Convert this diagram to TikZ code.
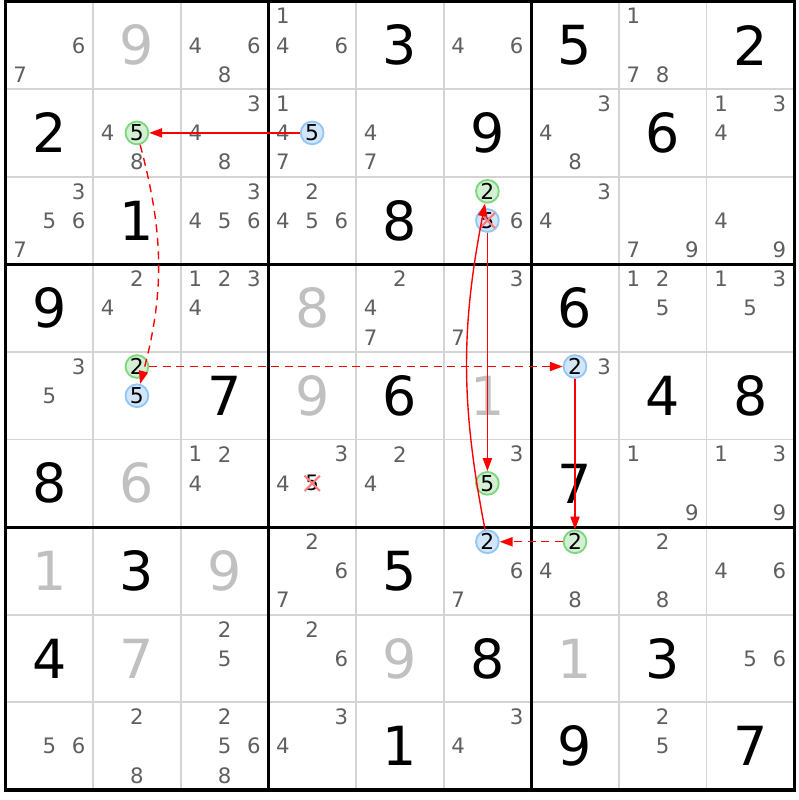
\documentclass[tikz,border=0pt]{standalone}
\usepackage{fontspec}
\setmainfont{DejaVu Sans}
\usetikzlibrary{arrows.meta,shapes.misc}
\definecolor{candgray}{RGB}{95,95,95}
\definecolor{solvedgray}{RGB}{192,192,192}
\definecolor{gridgray}{RGB}{212,212,212}
\definecolor{ongreen}{RGB}{125,215,125}
\definecolor{onfill}{RGB}{212,240,212}
\definecolor{offblue}{RGB}{145,198,245}
\definecolor{offfill}{RGB}{210,230,250}
\definecolor{xred}{RGB}{255,125,125}

\begin{document}
\begin{tikzpicture}[
    cand/.style={text=candgray, inner sep=0pt, font=\fontsize{6.9}{7}\selectfont},
    hitcand/.style={cand, text=black},
    oncand/.style={circle, draw=ongreen, fill=onfill, line width=0.6pt, minimum size=0.26cm,
      inner sep=0pt, font=\fontsize{7.1}{7}\selectfont},
    offcand/.style={oncand, draw=offblue, fill=offfill},
    given/.style={inner sep=0pt, font=\fontsize{17.5}{18}\selectfont},
    solved/.style={given, text=solvedgray},
    strong/.style={draw=red, line width=0.45pt, -{Triangle[length=4.2pt,width=3pt]}},
    weak/.style={strong, dash pattern=on 2.6pt off 1.8pt},
  ]
      \useasboundingbox (-0.063,-0.114) rectangle (9.046,9.017);
      \foreach \i in {1,2,4,5,7,8} {
        \draw [gridgray, line width=0.6pt] (\i,0) -- (\i,9);
        \draw [gridgray, line width=0.6pt] (0,\i) -- (9,\i);
      }
      \foreach \i in {3,6} {
        \draw [line width=1pt] (\i,0) -- (\i,9);
        \draw [line width=1pt] (0,\i) -- (9,\i);
      }
      \draw [line width=1pt] (0,0) rectangle (9,9);

      \foreach \r/\c/\d in {1/5/3, 1/7/5, 1/9/2, 2/1/2, 2/6/9, 2/8/6, 3/2/1, 3/5/8,
          4/1/9, 4/7/6, 5/3/7, 5/5/6, 5/8/4, 5/9/8, 6/1/8, 6/7/7, 7/2/3, 7/5/5,
          8/1/4, 8/6/8, 8/8/3, 9/5/1, 9/7/9, 9/9/7}
        \node [given] (g\r\c) at (\c-0.5,9.5-\r) {\d};
      \foreach \r/\c/\d in {1/2/9, 4/4/8, 5/4/9, 5/6/1, 6/2/6, 7/1/1, 7/3/9, 8/2/7, 8/5/9, 8/7/1}
        \node [solved] (g\r\c) at (\c-0.5,9.5-\r) {\d};

      \foreach \r/\c/\ks in {1/1/{6,7}, 1/3/{4,6,8}, 1/4/{1,4,6}, 1/6/{4,6}, 1/8/{1,7,8},
          2/2/{4,8}, 2/3/{3,4,8}, 2/4/{1,4,7}, 2/5/{4,7}, 2/7/{3,4,8}, 2/9/{1,3,4},
          3/1/{3,5,6,7}, 3/3/{3,4,5,6}, 3/4/{2,4,5,6}, 3/6/{6}, 3/7/{3,4}, 3/8/{7,9}, 3/9/{4,9},
          4/2/{2,4}, 4/3/{1,2,3,4}, 4/5/{2,4,7}, 4/6/{3,7}, 4/8/{1,2,5}, 4/9/{1,3,5},
          5/1/{3,5}, 5/7/{3},
          6/3/{1,2,4}, 6/4/{3,4}, 6/5/{2,4}, 6/6/{3}, 6/8/{1,9}, 6/9/{1,3,9},
          7/4/{2,6,7}, 7/6/{6,7}, 7/7/{4,8}, 7/8/{2,8}, 7/9/{4,6},
          8/3/{2,5}, 8/4/{2,6}, 8/9/{5,6},
          9/1/{5,6}, 9/2/{2,8}, 9/3/{2,5,6,8}, 9/4/{3,4}, 9/6/{3,4}, 9/8/{2,5}}
        \foreach \k in \ks {
          \pgfmathsetmacro\cx{\c-0.5+(mod(\k-1,3)-1)/3}
          \pgfmathsetmacro\cy{9.5-\r-(floor((\k-1)/3)-1)/3}
          \node [cand] (p\r\c\k) at (\cx,\cy) {\k};
        }

      \foreach \r/\c/\k/\s in {2/2/5/oncand, 2/4/5/offcand, 3/6/2/oncand, 3/6/5/offcand,
          5/2/2/oncand, 5/2/5/offcand, 5/7/2/offcand, 6/6/5/oncand, 7/6/2/offcand,
          7/7/2/oncand, 6/4/5/hitcand} {
        \pgfmathsetmacro\cx{\c-0.5+(mod(\k-1,3)-1)/3}
        \pgfmathsetmacro\cy{9.5-\r-(floor((\k-1)/3)-1)/3}
        \node [\s] (p\r\c\k) at (\cx,\cy) {\k};
      }
      \foreach \n in {p365,p645}
        \node [cross out, draw=xred, line width=0.7pt, minimum size=0.15cm, inner sep=0pt] (x\n) at (\n) {};

      \draw [strong] (p245) -- (p225);
      \draw [weak] (p225) to [bend left=15] (p525);
      \draw [weak] (p522) -- (p572);
      \draw [strong] (p572) -- (p772);
      \draw [weak] (p772) -- (p762);
      \draw [strong] (p762) to [bend left=11] (p362);
      \draw [strong] (p365) -- (p665);
    \end{tikzpicture}
\end{document}
